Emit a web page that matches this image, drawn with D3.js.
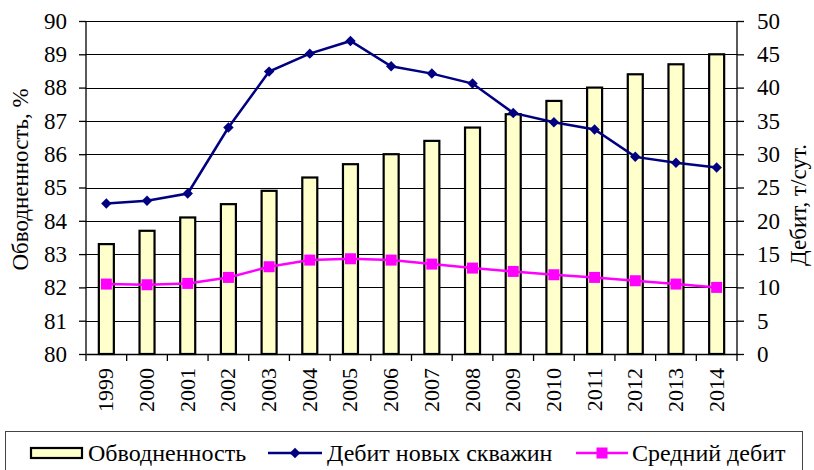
<!DOCTYPE html>
<html>
<head>
<meta charset="utf-8">
<script src="https://cdn.jsdelivr.net/npm/d3@7"></script>
<style>
body { margin: 0; background: #fff; }
text { font-family: "Liberation Serif", "Times New Roman", serif; fill: #000; }
</style>
</head>
<body>
<svg id="chart" width="814" height="470"></svg>
<script>
// years on the x axis
var years = ["1999","2000","2001","2002","2003","2004","2005","2006","2007","2008","2009","2010","2011","2012","2013","2014"];
// обводненность, % (left axis)
var waterCut = [83.3, 83.7, 84.1, 84.5, 84.9, 85.3, 85.7, 86.0, 86.4, 86.8, 87.2, 87.6, 88.0, 88.4, 88.7, 89.0];
// дебит новых скважин, т/сут (right axis)
var newWellRate = [22.6, 23.0, 24.1, 34.0, 42.4, 45.1, 47.0, 43.2, 42.1, 40.6, 36.2, 34.8, 33.7, 29.6, 28.7, 28.0];
// средний дебит, т/сут (right axis)
var avgRate = [10.5, 10.4, 10.6, 11.5, 13.1, 14.1, 14.3, 14.1, 13.5, 12.9, 12.4, 11.9, 11.5, 11.0, 10.5, 10.0];

var leftTicks = [80,81,82,83,84,85,86,87,88,89,90],
	rightTicks = [0,5,10,15,20,25,30,35,40,45,50];

// note: "top" is taken by window.top, so plot edges get their own names
var plotLeft = 86, plotRight = 737, plotTop = 21, plotBottom = 354;
var barFill = "#FFFFCC", navy = "#000080", magenta = "#FF00FF";

var svg = d3.select("#chart");

var x = d3.scaleBand().domain(years).range([plotLeft, plotRight]);
var yL = d3.scaleLinear().domain([80, 90]).range([plotBottom, plotTop]);
var yR = d3.scaleLinear().domain([0, 50]).range([plotBottom, plotTop]);

// gridlines
svg.append("g").selectAll("line").data(leftTicks.slice(1)).enter()
	.append("line")
	.attr("x1", plotLeft).attr("x2", plotRight)
	.attr("y1", function(d){ return Math.round(yL(d)) + 0.5; })
	.attr("y2", function(d){ return Math.round(yL(d)) + 0.5; })
	.attr("stroke", "#000").attr("stroke-width", 1);

// bars
var barW = 17;
svg.append("g").selectAll("rect").data(waterCut).enter()
	.append("rect")
	.attr("x", function(d, i){ return x(years[i]) + x.bandwidth()/2 - barW/2 + 1; })
	.attr("y", function(d){ return yL(d); })
	.attr("width", barW - 2)
	.attr("height", function(d){ return plotBottom - yL(d); })
	.attr("fill", barFill)
	.attr("stroke", "#000")
	.attr("stroke-width", 2.2);

// axes
var axisL = d3.axisLeft(yL).tickValues(leftTicks).tickSize(7).tickPadding(12);
var axisR = d3.axisRight(yR).tickValues(rightTicks).tickSize(7).tickPadding(13);
var axisB = d3.axisBottom(x).tickValues([]).tickSizeOuter(0);

var gL = svg.append("g").attr("transform", "translate(" + plotLeft + ",0)").call(axisL);
var gR = svg.append("g").attr("transform", "translate(" + plotRight + ",0)").call(axisR);
var gB = svg.append("g").attr("transform", "translate(0," + plotBottom + ")").call(axisB);

[gL, gR, gB].forEach(function(g){
	g.selectAll("path, line").attr("stroke", "#000").attr("stroke-width", 1.3);
	g.selectAll("text").style("font-size", "23px").style("font-family", "Liberation Serif");
});
gL.select(".domain").attr("d", "M0," + plotBottom + "V" + plotTop);
gR.select(".domain").attr("d", "M0," + plotBottom + "V" + plotTop);

// bottom tick marks at band boundaries
var bounds = years.map(function(y){ return x(y); }).concat([plotRight]);
svg.append("g").selectAll("line").data(bounds).enter()
	.append("line")
	.attr("x1", function(d){ return d; }).attr("x2", function(d){ return d; })
	.attr("y1", plotBottom).attr("y2", plotBottom + 7)
	.attr("stroke", "#000").attr("stroke-width", 1.3);

// year labels, rotated
svg.append("g").selectAll("text").data(years).enter()
	.append("text")
	.attr("transform", function(d){
		return "translate(" + (x(d) + x.bandwidth()/2 + 7) + "," + (plotBottom + 14) + ") rotate(-90)";
	})
	.attr("text-anchor", "end")
	.style("font-size", "22px")
	.text(function(d){ return d; });

// lines
var lineFn = function(vals){
	return d3.line()
		.x(function(d, i){ return x(years[i]) + x.bandwidth()/2; })
		.y(function(d){ return yR(d); })(vals);
};

svg.append("path").attr("d", lineFn(newWellRate))
	.attr("fill", "none").attr("stroke", navy).attr("stroke-width", 2.5);
svg.append("path").attr("d", lineFn(avgRate))
	.attr("fill", "none").attr("stroke", magenta).attr("stroke-width", 2.5);

svg.append("g").selectAll("path").data(newWellRate).enter()
	.append("path")
	.attr("transform", function(d, i){
		return "translate(" + (x(years[i]) + x.bandwidth()/2) + "," + yR(d) + ")";
	})
	.attr("d", d3.symbol().type(d3.symbolDiamond2).size(70))
	.attr("fill", navy);

svg.append("g").selectAll("rect").data(avgRate).enter()
	.append("rect")
	.attr("x", function(d, i){ return x(years[i]) + x.bandwidth()/2 - 5.5; })
	.attr("y", function(d){ return yR(d) - 5.5; })
	.attr("width", 11).attr("height", 11)
	.attr("fill", magenta);

// axis titles
svg.append("text")
	.attr("transform", "translate(28," + ((plotTop + plotBottom)/2 - 8) + ") rotate(-90)")
	.attr("text-anchor", "middle")
	.style("font-size", "23px")
	.text("Обводненность, %");

svg.append("text")
	.attr("transform", "translate(806,205) rotate(-90)")
	.attr("text-anchor", "middle")
	.style("font-size", "23px")
	.text("Дебит, т/сут.");

// legend
var lg = svg.append("g");
lg.append("rect")
	.attr("x", 5.5).attr("y", 431.5).attr("width", 797).attr("height", 50)
	.attr("fill", "#fff").attr("stroke", "#444").attr("stroke-width", 1);

lg.append("rect")
	.attr("x", 31).attr("y", 448).attr("width", 51).attr("height", 10)
	.attr("fill", barFill).attr("stroke", "#000").attr("stroke-width", 2.2);
lg.append("text").attr("x", 88).attr("y", 461).style("font-size", "24px").text("Обводненность");

lg.append("line").attr("x1", 268).attr("x2", 322).attr("y1", 453).attr("y2", 453)
	.attr("stroke", navy).attr("stroke-width", 2.5);
lg.append("path").attr("transform", "translate(295,453)")
	.attr("d", d3.symbol().type(d3.symbolDiamond2).size(70)).attr("fill", navy);
lg.append("text").attr("x", 327).attr("y", 461).style("font-size", "24px").text("Дебит новых скважин");

lg.append("line").attr("x1", 576).attr("x2", 628).attr("y1", 453).attr("y2", 453)
	.attr("stroke", magenta).attr("stroke-width", 2.5);
lg.append("rect").attr("x", 596.5).attr("y", 447.5).attr("width", 11).attr("height", 11)
	.attr("fill", magenta);
lg.append("text").attr("x", 632).attr("y", 461).style("font-size", "24px").text("Средний дебит");
</script>
</body>
</html>
